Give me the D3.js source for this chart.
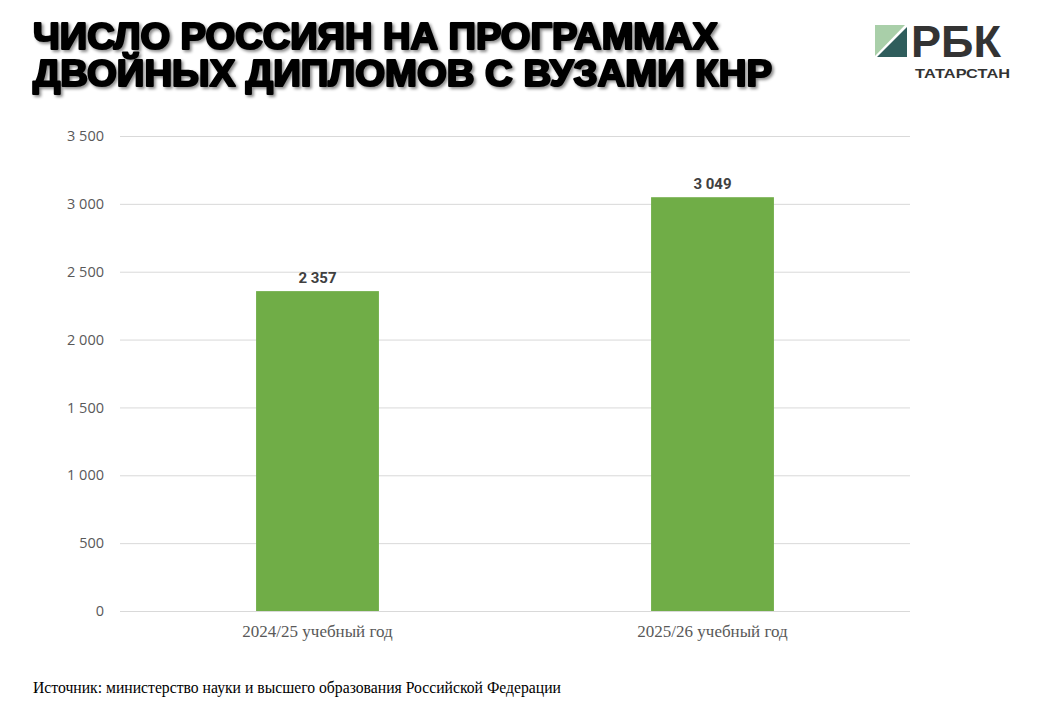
<!DOCTYPE html>
<html><head><meta charset="utf-8">
<script src="https://cdn.jsdelivr.net/npm/d3@7"></script>
<style>body{margin:0;background:#fff}svg{display:block}</style>
</head><body>
<script>
const categories = ["2024/25 учебный год", "2025/26 учебный год"];
const values = [2357, 3049];
const yTicks = [0, 500, 1000, 1500, 2000, 2500, 3000, 3500];
const titleLines = ["ЧИСЛО РОССИЯН НА ПРОГРАММАХ", "ДВОЙНЫХ ДИПЛОМОВ С ВУЗАМИ КНР"];
const source = "Источник: министерство науки и высшего образования Российской Федерации";

const W = 1040, H = 717;
const svg = d3.select("body").append("svg").attr("width", W).attr("height", H);
const defs = svg.append("defs");
const f = defs.append("filter").attr("id","sh").attr("x","-5%").attr("y","-20%").attr("width","110%").attr("height","150%");
f.append("feDropShadow").attr("dx",2).attr("dy",2).attr("stdDeviation",1.5).attr("flood-color","#000").attr("flood-opacity",0.45);

// Title
const tg = svg.append("g").attr("filter","url(#sh)");
const tWidths = [685, 739];
titleLines.forEach((t,i)=>{
  tg.append("text").attr("x",33).attr("y",49 + i*37)
    .attr("font-family","'Liberation Sans', Arial, sans-serif").attr("font-weight",700)
    .attr("font-size",36).attr("fill","#000").attr("stroke","#000").attr("stroke-width",2.2)
    .attr("stroke-linejoin","round")
    .attr("textLength",tWidths[i]).attr("lengthAdjust","spacingAndGlyphs").text(t);
});

// Logo
const lg = svg.append("g");
lg.append("path").attr("d","M875,25 L905,25 L875,56 Z").attr("fill","#a9cfa9");
lg.append("path").attr("d","M907,27 L907,57 L877,57 Z").attr("fill","#2f5d5c");
lg.append("text").attr("x",911).attr("y",56.5).attr("font-family","'Liberation Sans', Arial, sans-serif")
  .attr("font-weight",700).attr("font-size",44).attr("fill","#333").attr("textLength",90).attr("lengthAdjust","spacingAndGlyphs").text("РБК");
lg.append("text").attr("x",915).attr("y",78).attr("font-family","'Liberation Sans', Arial, sans-serif")
  .attr("font-weight",700).attr("font-size",13.5).attr("fill","#333").attr("textLength",95).attr("lengthAdjust","spacingAndGlyphs").text("ТАТАРСТАН");

// Scales
const x = d3.scaleBand().domain(categories).range([120, 910]).padding(0);
const y = d3.scaleLinear().domain([0, 3500]).range([611, 136]);
const fmt = d3.formatLocale({decimal:",", thousands:"\u00a0", grouping:[3], currency:["",""]}).format(",");

// Grid
svg.append("g").selectAll("line").data(yTicks).join("line")
  .attr("x1",120).attr("x2",910).attr("y1",d=>y(d)+0.5).attr("y2",d=>y(d)+0.5)
  .attr("stroke","#d9d9d9").attr("stroke-width",1);

// Y axis labels
const yAxis = d3.axisLeft(y).tickValues(yTicks).tickFormat(fmt).tickSize(0).tickPadding(0);
const ya = svg.append("g").attr("transform","translate(104,0)").call(yAxis);
ya.select(".domain").remove();
ya.selectAll("text").attr("font-family","'Open Sans', sans-serif").attr("font-size",14.5).attr("fill","#595959");

// Bars
const bw = x.bandwidth()*0.311;
svg.append("g").selectAll("rect").data(values).join("rect")
  .attr("x",(d,i)=>x(categories[i]) + x.bandwidth()/2 - bw/2)
  .attr("y",d=>y(d)).attr("width",bw).attr("height",d=>y(0)-y(d))
  .attr("fill","#70ad47");

// Value labels
svg.append("g").selectAll("text").data(values).join("text")
  .attr("x",(d,i)=>x(categories[i]) + x.bandwidth()/2)
  .attr("y",d=>y(d)-8).attr("text-anchor","middle")
  .attr("font-family","Roboto, sans-serif").attr("font-weight",700).attr("font-size",15)
  .attr("fill","#404040").text(d=>fmt(d));

// X axis labels
const xAxis = d3.axisBottom(x).tickSize(0).tickPadding(0);
const xa = svg.append("g").attr("transform","translate(0,625)").call(xAxis);
xa.select(".domain").remove();
xa.selectAll("text").attr("font-family","'Liberation Serif', 'Times New Roman', serif").attr("font-size",17).attr("fill","#595959");

// Source
svg.append("text").attr("x",33).attr("y",693).attr("font-family","'Liberation Serif', 'Times New Roman', serif")
  .attr("font-size",15.7).attr("fill","#000").text(source);
</script>
</body></html>
